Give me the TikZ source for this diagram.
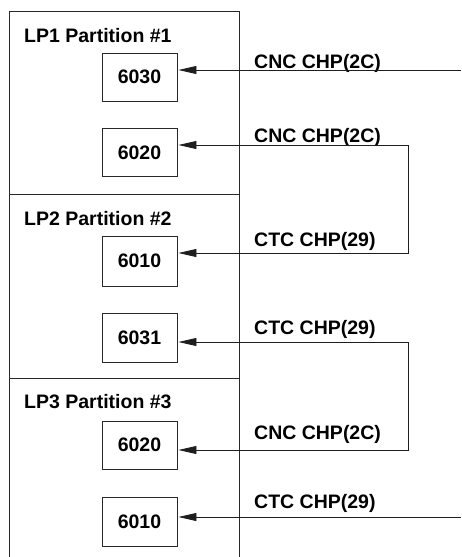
\documentclass[tikz,border=0pt]{standalone}
\usepackage{fontspec}
\setmainfont{Liberation Sans}
\usetikzlibrary{arrows.meta,calc}
\definecolor{frameline}{RGB}{40,40,40}
\definecolor{chpline}{RGB}{30,30,30}

\tikzset{
  devbox/.style={draw=frameline,line width=0.9pt,minimum width=75pt,minimum height=48pt,
    inner sep=0pt,font=\fontsize{19.5}{22}\selectfont\bfseries},
  partlabel/.style={anchor=base west,inner sep=0pt,font=\fontsize{19.5}{22}\selectfont\bfseries},
  chplabel/.style={anchor=base west,inner sep=0pt,font=\fontsize{19.5}{22}\selectfont\bfseries},
  chp/.style={draw=chpline,line width=0.8pt,-{Triangle[length=18pt,width=8pt]},shorten >=1pt},
  chploop/.style={draw=chpline,line width=0.8pt,{Triangle[length=18pt,width=8pt]}-{Triangle[length=18pt,width=8pt]},
    shorten >=1pt,shorten <=1pt}
}

\begin{document}
\begin{tikzpicture}[x=1pt,y=-1pt]
  \useasboundingbox (0,0) rectangle (461,557);

  % Partition frame
  \draw[frameline,line width=0.9pt] (9,557) -- (9,11) -- (239,11) -- (239,557);
  \draw[frameline,line width=0.9pt] (9,194) -- (239,194);
  \draw[frameline,line width=0.9pt] (9,378) -- (239,378);

  % Partition labels
  \node[partlabel] (lp1) at (24,42) {LP1 Partition \#1};
  \node[partlabel] (lp2) at (24,225) {LP2 Partition \#2};
  \node[partlabel] (lp3) at (24,408) {LP3 Partition \#3};

  % Device boxes
  \node[devbox] (b6030) at (139.5,77) {6030};
  \node[devbox] (b6020a) at (139.5,152.5) {6020};
  \node[devbox,minimum height=50pt] (b6010a) at (139.5,261) {6010};
  \node[devbox,minimum height=49pt] (b6031) at (139.5,337.5) {6031};
  \node[devbox] (b6020b) at (139.5,445) {6020};
  \node[devbox,minimum height=49pt] (b6010b) at (139.5,521.5) {6010};

  % Channel path labels
  \node[chplabel] (c1) at (254,68) {CNC CHP(2C)};
  \node[chplabel] (c2) at (254,142) {CNC CHP(2C)};
  \node[chplabel] (c3) at (254,246) {CTC CHP(29)};
  \node[chplabel] (c4) at (254,334) {CTC CHP(29)};
  \node[chplabel] (c5) at (254,439) {CNC CHP(2C)};
  \node[chplabel] (c6) at (254,508) {CTC CHP(29)};

  % Channel path ends
  \coordinate (in1) at (461,70);
  \coordinate (loopAtop) at (408,145);
  \coordinate (loopAbot) at (408,253);
  \coordinate (loopBtop) at (408,342);
  \coordinate (loopBbot) at (408,450);
  \coordinate (in6) at (461,517);

  % Connections
  \draw[chp] (in1) -- (b6030.east |- in1);
  \draw[chploop] (b6020a.east |- loopAtop) -- (loopAtop) -- (loopAbot) -- (b6010a.east |- loopAbot);
  \draw[chploop] (b6031.east |- loopBtop) -- (loopBtop) -- (loopBbot) -- (b6020b.east |- loopBbot);
  \draw[chp] (in6) -- (b6010b.east |- in6);
\end{tikzpicture}
\end{document}
